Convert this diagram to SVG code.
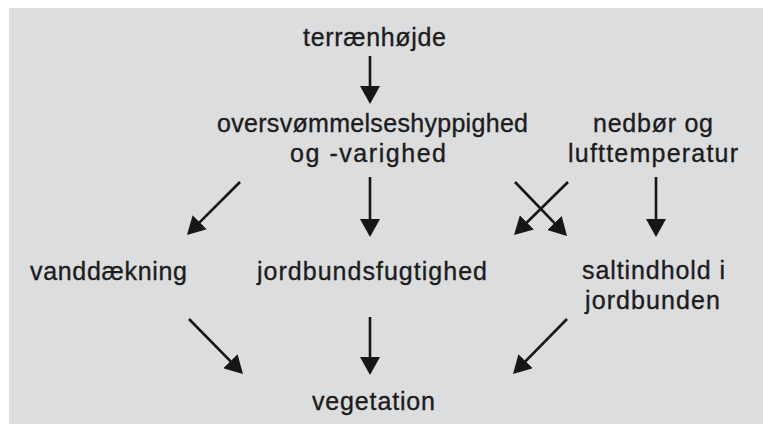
<svg xmlns="http://www.w3.org/2000/svg" width="763" height="424" viewBox="0 0 763 424">
  <style>
    text { font-family: "Liberation Sans", Arial, sans-serif; font-size: 25px; fill: #1c1c1c; stroke: #1c1c1c; stroke-width: 0.35; text-anchor: middle; }
    .c line { stroke: #161616; stroke-width: 2.6; fill: none; marker-end: url(#ah); }
  </style>
  <defs>
    <marker id="ah" markerUnits="userSpaceOnUse" markerWidth="18" markerHeight="20" viewBox="0 0 18 20" refX="14" refY="10" orient="auto">
      <path d="M0,0 L18,10 L0,20 z" fill="#161616"/>
    </marker>
  </defs>
  <rect x="0" y="0" width="763" height="424" fill="#ffffff"/>
  <rect x="9" y="8" width="754" height="416" fill="#dcdddf"/>

  <g id="terraenhojde"><text x="374.5" y="46" textLength="143" lengthAdjust="spacing">terrænhøjde</text></g>
  <g id="oversvommelse">
    <text x="372.5" y="132" textLength="311" lengthAdjust="spacing">oversvømmelseshyppighed</text>
    <text x="368" y="162" textLength="156" lengthAdjust="spacing">og -varighed</text>
  </g>
  <g id="nedbor">
    <text x="653" y="132" textLength="120" lengthAdjust="spacing">nedbør og</text>
    <text x="653" y="162" textLength="170" lengthAdjust="spacing">lufttemperatur</text>
  </g>
  <g id="vanddaekning"><text x="108.5" y="280" textLength="157" lengthAdjust="spacing">vanddækning</text></g>
  <g id="jordbundsfugtighed"><text x="372" y="280" textLength="230" lengthAdjust="spacing">jordbundsfugtighed</text></g>
  <g id="saltindhold">
    <text x="653.5" y="279" textLength="143" lengthAdjust="spacing">saltindhold i</text>
    <text x="652.5" y="309" textLength="135" lengthAdjust="spacing">jordbunden</text>
  </g>
  <g id="vegetation"><text x="373.5" y="410" textLength="123" lengthAdjust="spacing">vegetation</text></g>

  <g id="connectors" class="c">
    <line x1="370" y1="56" x2="370" y2="100"/>
    <line x1="240" y1="182" x2="189.8" y2="232.2"/>
    <line x1="370" y1="177" x2="370" y2="233"/>
    <line x1="515" y1="182" x2="564.2" y2="233.1"/>
    <line x1="568" y1="182" x2="516.9" y2="232.2"/>
    <line x1="656" y1="177" x2="656" y2="233"/>
    <line x1="189" y1="319" x2="240.2" y2="371.2"/>
    <line x1="370" y1="317" x2="370" y2="371"/>
    <line x1="567" y1="319" x2="515.8" y2="371.2"/>
  </g>
</svg>
